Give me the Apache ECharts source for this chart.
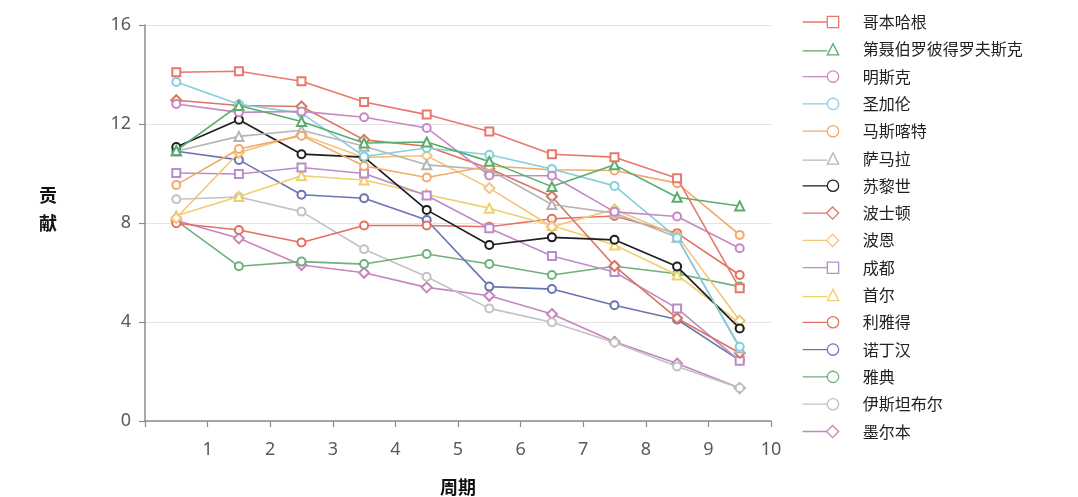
<!DOCTYPE html>
<html>
<head>
<meta charset="utf-8">
<script src="https://cdn.jsdelivr.net/npm/echarts@6/dist/echarts.min.js"></script>
<style>
html,body{margin:0;padding:0;background:#fff;}
#chart{width:1078px;height:497px;}
</style>
</head>
<body>
<div id="chart"></div>
<script>
// ---- data ----
const periods = [0.5, 1.5, 2.5, 3.5, 4.5, 5.5, 6.5, 7.5, 8.5, 9.5];
const seriesNames = ['哥本哈根','第聂伯罗彼得罗夫斯克','明斯克','圣加伦','马斯喀特','萨马拉','苏黎世','波士顿','波恩','成都','首尔','利雅得','诺丁汉','雅典','伊斯坦布尔','墨尔本'];
const copenhagen = [14.09, 14.13, 13.73, 12.89, 12.38, 11.70, 10.78, 10.66, 9.81, 5.36];
const dnipro     = [10.93, 12.75, 12.10, 11.23, 11.27, 10.49, 9.47, 10.35, 9.04, 8.69];
const minsk      = [12.81, 12.47, 12.51, 12.27, 11.84, 9.92, 9.91, 8.45, 8.26, 6.98];
const stGallen   = [13.70, 12.80, 12.44, 10.69, 11.03, 10.76, 10.18, 9.50, 7.40, 3.00];
const muscat     = [9.54, 10.99, 11.53, 10.30, 9.84, 10.30, 10.15, 10.12, 9.61, 7.52];
const samara     = [10.90, 11.50, 11.75, 11.10, 10.35, 10.15, 8.75, 8.40, 7.42, 2.95];
const zurich     = [11.07, 12.17, 10.78, 10.66, 8.53, 7.11, 7.42, 7.32, 6.24, 3.74];
const boston     = [12.96, 12.75, 12.71, 11.36, 11.10, 10.20, 9.07, 6.26, 4.15, 2.75];
const bonn       = [8.20, 10.85, 11.57, 10.65, 10.72, 9.41, 7.85, 8.55, 7.50, 4.05];
const chengdu    = [10.02, 9.98, 10.24, 10.00, 9.11, 7.79, 6.67, 6.02, 4.55, 2.43];
const seoul      = [8.29, 9.07, 9.91, 9.74, 9.15, 8.60, 7.90, 7.11, 5.90, 3.95];
const riyadh     = [7.99, 7.72, 7.21, 7.90, 7.90, 7.85, 8.17, 8.28, 7.59, 5.90];
const nottingham = [10.90, 10.55, 9.14, 9.00, 8.12, 5.43, 5.33, 4.68, 4.10, 2.45];
const athens     = [8.10, 6.25, 6.44, 6.34, 6.75, 6.34, 5.90, 6.25, 5.95, 5.43];
const istanbul   = [8.96, 9.05, 8.46, 6.94, 5.83, 4.55, 3.99, 3.17, 2.20, 1.33];
const melbourne  = [8.10, 7.38, 6.30, 5.99, 5.40, 5.06, 4.32, 3.20, 2.32, 1.33];
const allValues = [copenhagen, dnipro, minsk, stGallen, muscat, samara, zurich, boston, bonn, chengdu, seoul, riyadh, nottingham, athens, istanbul, melbourne];
const yTicks = [0, 4, 8, 12, 16];

// ---- styles ----
const colors = ['#e8786a','#5aac6e','#c887c3','#82cfe0','#f2aa68','#b5b5b5','#1e1e1e','#d9765f','#f2c47c','#b98ccc','#f0cf6c','#e56f60','#6a74b0','#6fb07c','#c2c2c2','#c884bf'];
const shapes = ['rect','triangle','circle','circle','circle','triangle','circle','diamond','diamond','rect','triangle','circle','circle','circle','circle','diamond'];
const iconPaths = {
  rect: 'path://M0,6.5 L24,6.5 M24,1 L35,1 L35,12 L24,12 Z',
  triangle: 'path://M0,8 L24,8 M29.5,1 L35,12 L24,12 Z',
  circle: 'path://M0,6.5 L24,6.5 M24,6.5 A5.5,5.5 0 1,1 35,6.5 A5.5,5.5 0 1,1 24,6.5 Z',
  diamond: 'path://M0,6.5 L23.5,6.5 M29.5,0.5 L35.5,6.5 L29.5,12.5 L23.5,6.5 Z'
};

const series = seriesNames.map((name, i) => ({
  name: name,
  type: 'line',
  data: periods.map((p, j) => [p, allValues[i][j]]),
  symbol: 'empty' + shapes[i].charAt(0).toUpperCase() + shapes[i].slice(1),
  symbolSize: shapes[i] === 'diamond' ? 10 : (shapes[i] === 'triangle' ? 9 : 8),
  color: colors[i],
  lineStyle: { width: i === 6 ? 1.7 : 1.6, color: colors[i] },
  itemStyle: { color: colors[i], borderWidth: 1.3 },
  emphasis: { disabled: true },
  z: 20 - i
}));

const chart = echarts.init(document.getElementById('chart'));
chart.setOption({
  animation: false,
  backgroundColor: '#fff',
  grid: { left: 145, right: 307, top: 25, bottom: 76, containLabel: false, outerBoundsMode: 'none' },
  xAxis: {
    type: 'value', min: 0, max: 10, interval: 1,
    name: '周期', nameLocation: 'middle', nameGap: 57,
    nameTextStyle: { fontSize: 18, fontWeight: 'bold', color: '#111', fontFamily: 'Noto Sans CJK SC' },
    axisLine: { show: true, lineStyle: { color: '#8c8c8c', width: 1.5 } },
    axisTick: { show: true, length: 6, lineStyle: { color: '#8c8c8c', width: 1.2 } },
    axisLabel: { fontSize: 18, color: '#5a5a5a', margin: 20, fontFamily: 'Noto Sans', formatter: v => v === 0 ? '' : String(v) },
    splitLine: { show: false }
  },
  yAxis: {
    type: 'value', min: yTicks[0], max: yTicks[yTicks.length - 1], interval: 4,
    name: '贡\n献\n', nameLocation: 'middle', nameGap: 88, nameRotate: 0,
    nameTextStyle: { fontSize: 18, fontWeight: 'bold', color: '#111', lineHeight: 28, fontFamily: 'Noto Sans CJK SC' },
    axisLine: { show: true, lineStyle: { color: '#8c8c8c', width: 1.5 } },
    axisTick: { show: true, length: 6, lineStyle: { color: '#8c8c8c', width: 1.2 } },
    axisLabel: { fontSize: 18, color: '#5a5a5a', margin: 14, fontFamily: 'Noto Sans', formatter: v => yTicks.indexOf(v) >= 0 ? String(v) : '' },
    splitLine: { show: true, lineStyle: { color: '#e3e3e3', width: 1 } }
  },
  legend: {
    orient: 'vertical', left: 797, top: 9,
    itemWidth: 36, itemHeight: 13, itemGap: 11.3,
    selectedMode: false,
    textStyle: { fontSize: 16, color: '#222', lineHeight: 16, padding: [0, 0, 0, 19], fontFamily: 'Noto Sans CJK SC' },
    data: seriesNames.map((n, i) => ({
      name: n,
      icon: iconPaths[shapes[i]],
      itemStyle: { color: '#fff', borderColor: colors[i], borderWidth: 1.3 }
    }))
  },
  series: series
});
</script>
</body>
</html>
